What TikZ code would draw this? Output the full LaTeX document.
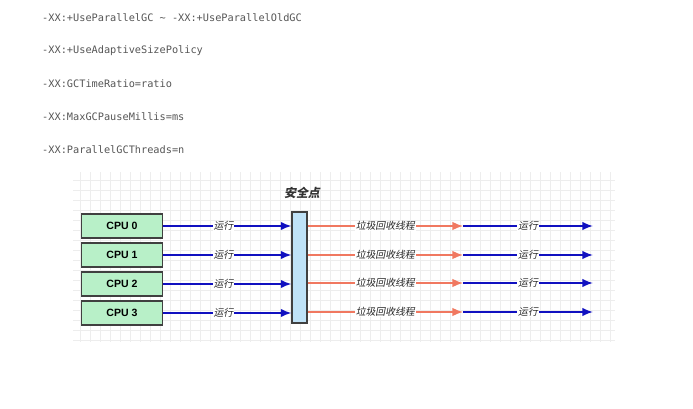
\documentclass[tikz,border=0pt]{standalone}
\usepackage{fontspec}
\setsansfont{Liberation Sans}
\setmonofont{DejaVu Sans Mono}
\newfontfamily\cjk[FakeSlant=0.2]{Noto Sans CJK SC}
\usetikzlibrary{arrows.meta}
\definecolor{optgray}{HTML}{555555}
\definecolor{cpugreen}{HTML}{B8F0C8}
\definecolor{barblue}{HTML}{BFE2F7}
\definecolor{runblue}{HTML}{1010C0}
\definecolor{gcred}{HTML}{F07860}
\begin{document}
\begin{tikzpicture}[x=0.025cm, y=-0.025cm, thick,
  opt/.style = {anchor=west, text=optgray, font=\ttfamily\fontsize{7.3}{9}\selectfont},
  cpu/.style = {draw=black!75, fill=cpugreen, minimum width=2.025cm, minimum height=0.6cm, font=\sffamily\bfseries\fontsize{7.5}{9}\selectfont},
  lbl/.style = {fill=white, inner sep=0.5pt, font=\cjk\fontsize{7}{8}\selectfont, text=black!85},
  run/.style = {runblue, line width=1.2pt, -{Latex[length=7.5pt,width=6pt]}},
  gc/.style = {gcred, line width=1pt, -{Latex[length=7.5pt,width=6pt]}}]
\useasboundingbox (0,0) rectangle (693,409);

% options
\node[opt] (o1) at (37,18) {-XX:+UseParallelGC \textasciitilde{} -XX:+UseParallelOldGC};
\node[opt] (o2) at (37,51) {-XX:+UseAdaptiveSizePolicy};
\node[opt] (o3) at (37,84) {-XX:GCTimeRatio=ratio};
\node[opt] (o4) at (37,117) {-XX:MaxGCPauseMillis=ms};
\node[opt] (o5) at (37,150) {-XX:ParallelGCThreads=n};

% background grid
\draw[black!7, thin, step=0.25cm] (73,172) grid (615,342);

% cpus
\node[cpu] (c0) at (122,226) {CPU 0};
\node[cpu] (c1) at (122,255) {CPU 1};
\node[cpu] (c2) at (122,284) {CPU 2};
\node[cpu] (c3) at (122,313) {CPU 3};

% safepoint
\node[draw=black!75, fill=barblue, minimum width=0.375cm, minimum height=2.775cm, inner sep=0pt] (sp) at (299.5,267.5) {};
\node[font=\cjk\bfseries\fontsize{8.5}{10}\selectfont, text=black!80] (spl) at (302,193) {安全点};

% ends of the gc threads and of the runs
\coordinate (m0) at (463,226); \coordinate (e0) at (593,226);
\coordinate (m1) at (463,255); \coordinate (e1) at (593,255);
\coordinate (m2) at (463,283); \coordinate (e2) at (593,283);
\coordinate (m3) at (463,312); \coordinate (e3) at (593,312);

\draw[run] (c0.east) -- (c0.east -| sp.west) node[lbl, pos=0.47] {运行};
\draw[run] (c1.east) -- (c1.east -| sp.west) node[lbl, pos=0.47] {运行};
\draw[run] (c2.east) -- (c2.east -| sp.west) node[lbl, pos=0.47] {运行};
\draw[run] (c3.east) -- (c3.east -| sp.west) node[lbl, pos=0.47] {运行};

\draw[gc] (m0 -| sp.east) -- (m0) node[lbl, midway] {垃圾回收线程};
\draw[gc] (m1 -| sp.east) -- (m1) node[lbl, midway] {垃圾回收线程};
\draw[gc] (m2 -| sp.east) -- (m2) node[lbl, midway] {垃圾回收线程};
\draw[gc] (m3 -| sp.east) -- (m3) node[lbl, midway] {垃圾回收线程};

\draw[run] (m0) -- (e0) node[lbl, midway] {运行};
\draw[run] (m1) -- (e1) node[lbl, midway] {运行};
\draw[run] (m2) -- (e2) node[lbl, midway] {运行};
\draw[run] (m3) -- (e3) node[lbl, midway] {运行};
\end{tikzpicture}
\end{document}
